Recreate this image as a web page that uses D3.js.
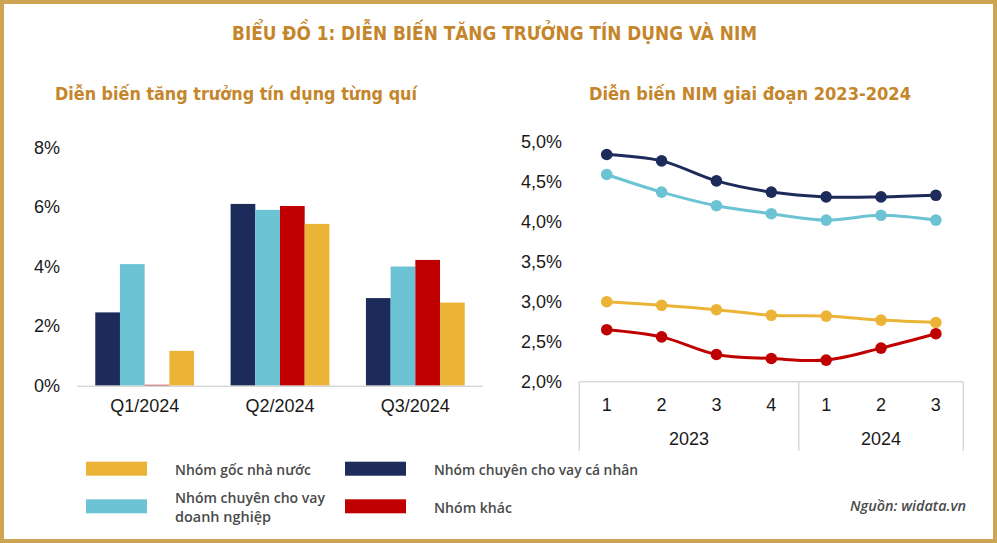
<!DOCTYPE html>
<html>
<head>
<meta charset="utf-8">
<script src="https://cdn.jsdelivr.net/npm/d3@7"></script>
<style>
  body { margin: 0; background: #fff; }
  svg { display: block; }
  text { font-family: "Liberation Sans", Arial, sans-serif; }
</style>
</head>
<body>
<svg width="997" height="543"></svg>
<script>
// data
const quarters = ["Q1/2024", "Q2/2024", "Q3/2024"];
const creditCaNhan = [2.46, 6.10, 2.94];
const creditDoanhNghiep = [4.08, 5.90, 4.00];
const creditKhac = [0.03, 6.03, 4.22];
const creditNhaNuoc = [1.17, 5.43, 2.79];
const creditTicks = [0, 2, 4, 6, 8];

const nimPeriods = ["1", "2", "3", "4", "1", "2", "3"];
const nimYears = ["2023", "2024"];
const nimYearCounts = [4, 3];
const nimCaNhan = [4.84, 4.76, 4.51, 4.37, 4.31, 4.31, 4.33];
const nimDoanhNghiep = [4.59, 4.37, 4.20, 4.10, 4.02, 4.08, 4.02];
const nimNhaNuoc = [3.00, 2.955, 2.90, 2.83, 2.82, 2.77, 2.74];
const nimKhac = [2.65, 2.56, 2.34, 2.29, 2.27, 2.42, 2.60];
const nimTicks = [2.0, 2.5, 3.0, 3.5, 4.0, 4.5, 5.0];

const colors = {
  caNhan: "#1c2b5a",
  doanhNghiep: "#6cc3d3",
  khac: "#c00000",
  nhaNuoc: "#ecb437"
};
const gold = "#c5862b";

const svg = d3.select("svg");

// frame
svg.append("rect")
  .attr("x", 2).attr("y", 2)
  .attr("width", 993).attr("height", 539)
  .attr("fill", "none")
  .attr("stroke", "#cda552")
  .attr("stroke-width", 4);

// titles
svg.append("text")
  .attr("x", 232).attr("y", 40)
  .attr("textLength", 525).attr("lengthAdjust", "spacingAndGlyphs")
  .style("font-family", "'DejaVu Sans', sans-serif")
  .style("font-size", "19px").style("font-weight", "bold")
  .attr("fill", gold)
  .text("BIỂU ĐỒ 1: DIỄN BIẾN TĂNG TRƯỞNG TÍN DỤNG VÀ NIM");

svg.append("text")
  .attr("x", 55).attr("y", 100)
  .attr("textLength", 362).attr("lengthAdjust", "spacingAndGlyphs")
  .style("font-family", "'DejaVu Sans', sans-serif")
  .style("font-size", "18px").style("font-weight", "bold")
  .attr("fill", gold)
  .text("Diễn biến tăng trưởng tín dụng từng quí");

svg.append("text")
  .attr("x", 589).attr("y", 100)
  .attr("textLength", 322).attr("lengthAdjust", "spacingAndGlyphs")
  .style("font-family", "'DejaVu Sans', sans-serif")
  .style("font-size", "18px").style("font-weight", "bold")
  .attr("fill", gold)
  .text("Diễn biến NIM giai đoạn 2023-2024");

// ---- bar chart ----
const barSeries = [
  { key: "caNhan", values: creditCaNhan },
  { key: "doanhNghiep", values: creditDoanhNghiep },
  { key: "khac", values: creditKhac },
  { key: "nhaNuoc", values: creditNhaNuoc }
];

const x0 = d3.scaleBand()
  .domain(quarters)
  .range([77, 483])
  .paddingInner(0.27)
  .paddingOuter(0.135);

const x1 = d3.scaleBand()
  .domain(barSeries.map((d) => d.key))
  .range([0, x0.bandwidth()]);

const yBar = d3.scaleLinear().domain([0, 8]).range([385.7, 147.3]);

const barAxis = svg.append("g")
  .attr("transform", "translate(60,0)")
  .call(d3.axisLeft(yBar).tickValues(creditTicks).tickSize(0).tickPadding(0)
    .tickFormat((d) => d + "%"));
barAxis.select(".domain").remove();
barAxis.selectAll("text")
  .style("font-size", "18px")
  .style("font-family", "'Liberation Sans', Arial, sans-serif")
  .attr("fill", "#1a1a1a");

const groups = svg.append("g")
  .selectAll("g")
  .data(quarters)
  .join("g")
  .attr("transform", (d) => `translate(${x0(d)},0)`);

groups.selectAll("rect")
  .data((q, i) => barSeries.map((s) => ({ key: s.key, value: s.values[i] })))
  .join("rect")
  .attr("x", (d) => x1(d.key))
  .attr("y", (d) => yBar(d.value))
  .attr("width", x1.bandwidth())
  .attr("height", (d) => yBar(0) - yBar(d.value))
  .attr("fill", (d) => colors[d.key]);

svg.append("line")
  .attr("x1", 77).attr("x2", 483)
  .attr("y1", yBar(0) + 0.5).attr("y2", yBar(0) + 0.5)
  .attr("stroke", "#d9d9d9").attr("stroke-width", 1.5);

const barX = svg.append("g")
  .attr("transform", `translate(0,${yBar(0)})`)
  .call(d3.axisBottom(x0).tickSize(0).tickPadding(14));
barX.select(".domain").remove();
barX.selectAll("text")
  .style("font-size", "18px")
  .style("font-family", "'Liberation Sans', Arial, sans-serif")
  .attr("fill", "#1a1a1a");

// ---- line chart ----
const xLine = d3.scaleBand()
  .domain(d3.range(nimPeriods.length))
  .range([579.3, 963.3]);
const cx = (i) => xLine(i) + xLine.bandwidth() / 2;

const yLine = d3.scaleLinear().domain([2, 5]).range([381.7, 141.7]);

const lineAxis = svg.append("g")
  .attr("transform", "translate(562,0)")
  .call(d3.axisLeft(yLine).tickValues(nimTicks).tickSize(0).tickPadding(0)
    .tickFormat((d) => d3.format(".1f")(d).replace(".", ",") + "%"));
lineAxis.select(".domain").remove();
lineAxis.selectAll("text")
  .style("font-size", "18px")
  .style("font-family", "'Liberation Sans', Arial, sans-serif")
  .attr("fill", "#1a1a1a");

// category axis box
const axisG = svg.append("g");
const bottomY = 451;
axisG.append("line")
  .attr("x1", xLine.range()[0]).attr("x2", xLine.range()[1])
  .attr("y1", yLine(2)).attr("y2", yLine(2))
  .attr("stroke", "#d9d9d9").attr("stroke-width", 1.5);

let start = 0;
const dividers = [0];
nimYearCounts.forEach((n) => { start += n; dividers.push(start); });
dividers.forEach((k) => {
  const xv = k < nimPeriods.length ? xLine(k) : xLine.range()[1];
  axisG.append("line")
    .attr("x1", xv).attr("x2", xv)
    .attr("y1", yLine(2)).attr("y2", bottomY)
    .attr("stroke", "#d9d9d9").attr("stroke-width", 1.5);
});

axisG.selectAll(".period")
  .data(nimPeriods)
  .join("text")
  .attr("class", "period")
  .attr("x", (d, i) => cx(i))
  .attr("y", 411)
  .attr("text-anchor", "middle")
  .style("font-size", "18px")
  .attr("fill", "#1a1a1a")
  .text((d) => d);

axisG.selectAll(".year")
  .data(nimYears)
  .join("text")
  .attr("class", "year")
  .attr("x", (d, i) => {
    const a = xLine(dividers[i]);
    const b = dividers[i + 1] < nimPeriods.length ? xLine(dividers[i + 1]) : xLine.range()[1];
    return (a + b) / 2;
  })
  .attr("y", 445)
  .attr("text-anchor", "middle")
  .style("font-size", "18px")
  .attr("fill", "#1a1a1a")
  .text((d) => d);

const lineSeries = [
  { key: "nhaNuoc", values: nimNhaNuoc },
  { key: "khac", values: nimKhac },
  { key: "doanhNghiep", values: nimDoanhNghiep },
  { key: "caNhan", values: nimCaNhan }
];

const line = d3.line()
  .x((d, i) => cx(i))
  .y((d) => yLine(d))
  .curve(d3.curveCatmullRom.alpha(0.5));

lineSeries.forEach((s) => {
  const g = svg.append("g");
  g.append("path")
    .attr("d", line(s.values))
    .attr("fill", "none")
    .attr("stroke", colors[s.key])
    .attr("stroke-width", 3);
  g.selectAll("circle")
    .data(s.values)
    .join("circle")
    .attr("cx", (d, i) => cx(i))
    .attr("cy", (d) => yLine(d))
    .attr("r", 5.8)
    .attr("fill", colors[s.key]);
});

// ---- legend ----
const legendItems = [
  { key: "nhaNuoc", lines: ["Nhóm gốc nhà nước"], x: 86, y: 461.7, w: 136 },
  { key: "caNhan", lines: ["Nhóm chuyên cho vay cá nhân"], x: 345, y: 461.7, w: 204 },
  { key: "doanhNghiep", lines: ["Nhóm chuyên cho vay", "doanh nghiệp"], x: 86, y: 499.3, w: 150 },
  { key: "khac", lines: ["Nhóm khác"], x: 345, y: 499.3, w: 78 }
];

const legend = svg.append("g");
legendItems.forEach((it) => {
  legend.append("rect")
    .attr("x", it.x).attr("y", it.y)
    .attr("width", 61).attr("height", 14)
    .attr("fill", colors[it.key]);
  const style = (t) => t
    .attr("fill", "#4a4a4a")
    .style("font-family", "'Open Sans', sans-serif")
    .style("font-size", "14.5px")
    .style("font-weight", 600)
    .attr("lengthAdjust", "spacingAndGlyphs");
  if (it.lines.length === 1) {
    legend.append("text").call(style)
      .attr("x", it.x + 89).attr("y", it.y + 13.5)
      .attr("textLength", it.w)
      .text(it.lines[0]);
  } else {
    legend.append("text").call(style)
      .attr("x", it.x + 89).attr("y", it.y + 3.5)
      .attr("textLength", it.w)
      .text(it.lines[0]);
    legend.append("text").call(style)
      .attr("x", it.x + 89).attr("y", it.y + 22.5)
      .attr("textLength", 96)
      .text(it.lines[1]);
  }
});

svg.append("text")
  .attr("x", 966).attr("y", 511)
  .attr("text-anchor", "end")
  .attr("textLength", 116).attr("lengthAdjust", "spacingAndGlyphs")
  .attr("fill", "#4a4a4a")
  .style("font-family", "'Open Sans', sans-serif")
  .style("font-size", "15px")
  .style("font-style", "italic")
  .style("font-weight", 600)
  .text("Nguồn: widata.vn");
</script>
</body>
</html>
